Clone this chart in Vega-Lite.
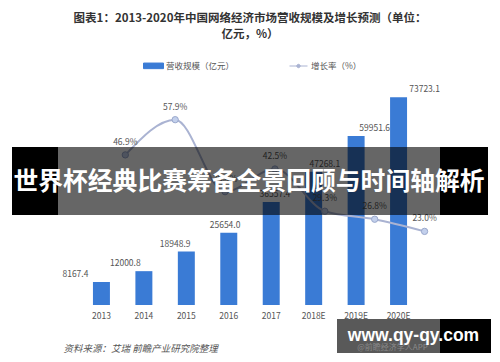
{
  "$schema": "https://vega.github.io/schema/vega-lite/v6.json",
  "width": 500,
  "height": 225,
  "autosize": {"type": "none"},
  "padding": {"top": 80, "left": 0, "right": 0, "bottom": 57},
  "background": "white",
  "config": {"view": {"stroke": null}, "font": "Noto Sans CJK SC"},
  "title": {
    "text": ["图表1：2013-2020年中国网络经济市场营收规模及增长预测（单位：", "亿元，%）"],
    "fontSize": 11.5,
    "fontWeight": "bold",
    "color": "#333333",
    "anchor": "middle",
    "lineHeight": 16,
    "offset": 15,
    "font": "Noto Sans CJK SC"
  },
  "data": {
    "values": [
      {"year": "2013", "rev": 8167.4, "growth": null},
      {"year": "2014", "rev": 12000.8, "growth": 0.469},
      {"year": "2015", "rev": 18948.9, "growth": 0.579},
      {"year": "2016", "rev": 25654.0, "growth": 0.354},
      {"year": "2017", "rev": 36557.4, "growth": 0.425},
      {"year": "2018E", "rev": 47268.1, "growth": 0.293},
      {"year": "2019E", "rev": 59951.6, "growth": 0.268},
      {"year": "2020E", "rev": 73723.1, "growth": 0.230}
    ]
  },
  "layer": [
    {
      "mark": {"type": "bar"},
      "encoding": {
        "x": {
          "field": "year", "type": "nominal", "sort": null,
          "scale": {"domain": ["2013", "2014", "2015", "2016", "2017", "2018E", "2019E", "2020E"], "paddingInner": 0.6, "paddingOuter": 1, "range": [50.5, 449.5]},
          "axis": {
            "title": "资料来源：艾瑞 前瞻产业研究院整理",
            "domain": false, "ticks": false, "grid": false, "labelAngle": 0,
            "labelFontSize": 8.5, "labelColor": "#555555", "labelPadding": 6, "labelFont": "Noto Sans CJK SC",
            "titleFont": "Noto Sans CJK SC", "titleFontSize": 9.5, "titleFontWeight": "normal", "titleFontStyle": "italic",
            "titleColor": "#555555", "titleAnchor": "start", "titleAlign": "left", "titleX": 63, "titleY": 43, "titleBaseline": "middle"
          }
        },
        "y": {"field": "rev", "type": "quantitative", "scale": {"domain": [0, 79800], "nice": false, "zero": true}, "axis": null},
        "color": {
          "datum": "营收规模（亿元）", "type": "nominal",
          "scale": {"domain": ["营收规模（亿元）", "增长率（%）"], "range": ["#3a7bd5", "#aab3d2"]},
          "legend": {
            "orient": "none", "legendX": 143, "legendY": -25, "direction": "horizontal", "title": null,
            "symbolSize": 400, "labelFontSize": 8.5, "labelColor": "#555555", "labelFont": "Noto Sans CJK SC",
            "labelOffset": 2, "columnPadding": 52,
            "encode": {
              "symbols": {
                "update": {
                  "shape": {"signal": "datum.value === '营收规模（亿元）' ? 'M-1,-0.28H1V0.28H-1Z' : 'M-0.9,0H0.9M-0.17,0A0.17,0.17 0 1,1 0.17,0A0.17,0.17 0 1,1 -0.17,0'"},
                  "fill": {"signal": "datum.value === '营收规模（亿元）' ? '#3a7bd5' : '#9aa6c6'"},
                  "stroke": {"signal": "datum.value === '营收规模（亿元）' ? 'transparent' : '#b3bbd4'"},
                  "strokeWidth": {"value": 1},
                  "opacity": {"value": 1}
                }
              }
            }
          }
        }
      }
    },
    {
      "mark": {"type": "text", "baseline": "bottom", "dy": -3, "fontSize": 8.5, "color": "#555555", "font": "Noto Sans CJK SC"},
      "encoding": {
        "x": {"field": "year", "type": "nominal", "sort": null, "scale": {"domain": ["2013", "2014", "2015", "2016", "2017", "2018E", "2019E", "2020E"], "paddingInner": 0.6, "paddingOuter": 1, "range": [50.5, 449.5]}, "axis": null},
        "y": {"field": "rev", "type": "quantitative", "scale": {"domain": [0, 79800], "nice": false, "zero": true}, "axis": null},
        "text": {"field": "rev", "type": "quantitative", "format": ".1f"}
      }
    },
    {
      "transform": [{"filter": "datum.growth != null"}],
      "mark": {"type": "line", "interpolate": "monotone", "strokeWidth": 2},
      "encoding": {
        "x": {"field": "year", "type": "nominal", "sort": null, "scale": {"domain": ["2013", "2014", "2015", "2016", "2017", "2018E", "2019E", "2020E"], "paddingInner": 0.6, "paddingOuter": 1, "range": [50.5, 449.5]}, "axis": null},
        "y": {"field": "growth", "type": "quantitative", "scale": {"domain": [0, 0.703], "nice": false, "zero": true}, "axis": null},
        "color": {"datum": "增长率（%）", "type": "nominal"}
      }
    },
    {
      "transform": [{"filter": "datum.growth != null"}],
      "mark": {"type": "circle", "size": 40, "color": "#c3d0ec", "stroke": "#9aa8cc", "strokeWidth": 1, "opacity": 1},
      "encoding": {
        "x": {"field": "year", "type": "nominal", "sort": null, "scale": {"domain": ["2013", "2014", "2015", "2016", "2017", "2018E", "2019E", "2020E"], "paddingInner": 0.6, "paddingOuter": 1, "range": [50.5, 449.5]}, "axis": null},
        "y": {"field": "growth", "type": "quantitative", "scale": {"domain": [0, 0.703], "nice": false, "zero": true}, "axis": null}
      }
    },
    {
      "transform": [{"filter": "datum.growth != null"}],
      "mark": {"type": "text", "baseline": "middle", "dy": -13, "fontSize": 8.5, "color": "#555555", "font": "Noto Sans CJK SC"},
      "encoding": {
        "x": {"field": "year", "type": "nominal", "sort": null, "scale": {"domain": ["2013", "2014", "2015", "2016", "2017", "2018E", "2019E", "2020E"], "paddingInner": 0.6, "paddingOuter": 1, "range": [50.5, 449.5]}, "axis": null},
        "y": {"field": "growth", "type": "quantitative", "scale": {"domain": [0, 0.703], "nice": false, "zero": true}, "axis": null},
        "text": {"field": "growth", "type": "quantitative", "format": ".1%"}
      }
    },
    {
      "data": {"values": [{"n": 1}]},
      "mark": {"type": "rect", "color": "#000000", "opacity": 0.6},
      "encoding": {
        "x": {"datum": 11.6, "type": "quantitative", "scale": {"domain": [0, 100], "nice": false}, "axis": null},
        "x2": {"datum": 88},
        "y": {"datum": 56028, "type": "quantitative", "scale": {"domain": [0, 79800], "nice": false}, "axis": null},
        "y2": {"datum": 31915}
      }
    },
    {
      "data": {"values": [{"n": 1}]},
      "mark": {"type": "rect", "color": "#000000", "opacity": 1},
      "encoding": {
        "x": {"datum": 2.4, "type": "quantitative", "scale": {"domain": [0, 100], "nice": false}, "axis": null},
        "x2": {"datum": 11.6},
        "y": {"datum": 56028, "type": "quantitative", "scale": {"domain": [0, 79800], "nice": false}, "axis": null},
        "y2": {"datum": 31915}
      }
    },
    {
      "data": {"values": [{"n": 1}]},
      "mark": {"type": "rect", "color": "#000000", "opacity": 1},
      "encoding": {
        "x": {"datum": 88, "type": "quantitative", "scale": {"domain": [0, 100], "nice": false}, "axis": null},
        "x2": {"datum": 97.6},
        "y": {"datum": 56028, "type": "quantitative", "scale": {"domain": [0, 79800], "nice": false}, "axis": null},
        "y2": {"datum": 31915}
      }
    },
    {
      "data": {"values": [{"t": "世界杯经典比赛筹备全景回顾与时间轴解析"}]},
      "mark": {"type": "text", "color": "#ffffff", "fontSize": 24.8, "fontWeight": "bold", "font": "Noto Sans CJK SC", "align": "center", "baseline": "middle"},
      "encoding": {
        "x": {"datum": 49.8, "type": "quantitative", "scale": {"domain": [0, 100], "nice": false}, "axis": null},
        "y": {"datum": 43270, "type": "quantitative", "scale": {"domain": [0, 79800], "nice": false}, "axis": null},
        "text": {"field": "t", "type": "nominal"}
      }
    },
    {
      "data": {"values": [{"n": 1}]},
      "mark": {"type": "rect", "color": "#000000", "opacity": 0.65},
      "encoding": {
        "x": {"datum": 67.4, "type": "quantitative", "scale": {"domain": [0, 100], "nice": false}, "axis": null},
        "x2": {"datum": 88},
        "y": {"datum": -4965, "type": "quantitative", "scale": {"domain": [0, 79800], "nice": false}, "axis": null},
        "y2": {"datum": -17024}
      }
    },
    {
      "data": {"values": [{"n": 1}]},
      "mark": {"type": "rect", "color": "#000000", "opacity": 1},
      "encoding": {
        "x": {"datum": 88, "type": "quantitative", "scale": {"domain": [0, 100], "nice": false}, "axis": null},
        "x2": {"datum": 98.2},
        "y": {"datum": -4965, "type": "quantitative", "scale": {"domain": [0, 79800], "nice": false}, "axis": null},
        "y2": {"datum": -17024}
      }
    },
    {
      "data": {"values": [{"t": "@前瞻经济学人APP"}]},
      "mark": {"type": "text", "color": "#8a8a8a", "fontSize": 8, "font": "Noto Sans CJK SC", "align": "center", "baseline": "middle"},
      "encoding": {
        "x": {"datum": 78.5, "type": "quantitative", "scale": {"domain": [0, 100], "nice": false}, "axis": null},
        "y": {"datum": -15251, "type": "quantitative", "scale": {"domain": [0, 79800], "nice": false}, "axis": null},
        "text": {"field": "t", "type": "nominal"}
      }
    },
    {
      "data": {"values": [{"t": "www.qy-qy.com"}]},
      "mark": {"type": "text", "color": "#ffffff", "fontSize": 17.5, "fontWeight": "bold", "font": "Liberation Sans", "align": "center", "baseline": "middle"},
      "encoding": {
        "x": {"datum": 82.7, "type": "quantitative", "scale": {"domain": [0, 100], "nice": false}, "axis": null},
        "y": {"datum": -10995, "type": "quantitative", "scale": {"domain": [0, 79800], "nice": false}, "axis": null},
        "text": {"field": "t", "type": "nominal"}
      }
    }
  ],
  "resolve": {"scale": {"x": "independent", "y": "independent"}}
}
